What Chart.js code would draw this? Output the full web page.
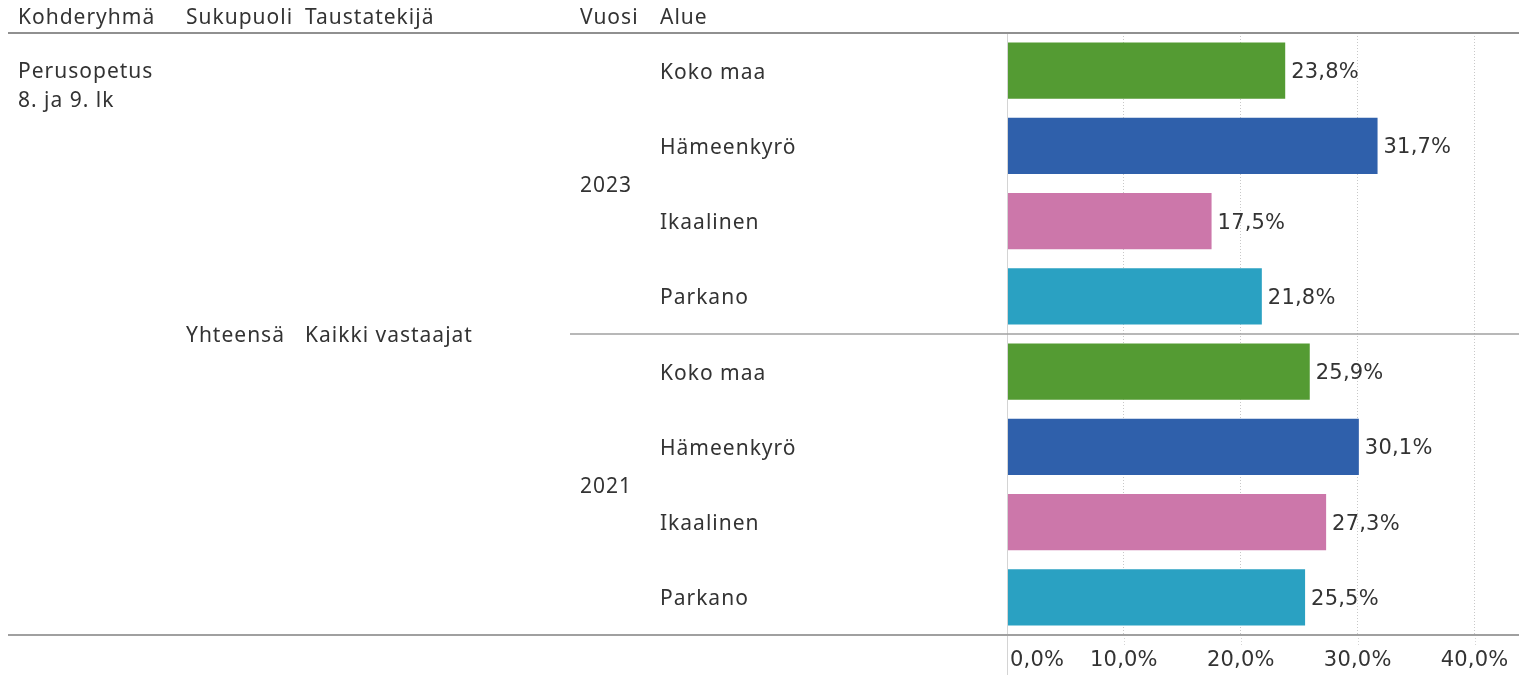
<!DOCTYPE html>
<html>
<head>
<meta charset="utf-8">
<script src="https://cdn.jsdelivr.net/npm/chart.js@4.4.0/dist/chart.umd.min.js"></script>
<style>
  html, body { margin: 0; padding: 0; background: #fff; }
  #wrap { width: 1519px; height: 675px; position: relative; }
</style>
</head>
<body>
<div id="wrap"><canvas id="chart" width="1519" height="675"></canvas></div>
<script>
var years = ['2023', '2021'];
var regions = ['Koko maa', 'Hämeenkyrö', 'Ikaalinen', 'Parkano'];
var values2023 = [23.8, 31.7, 17.5, 21.8];
var values2021 = [25.9, 30.1, 27.3, 25.5];
var regionColors = ['#549b33', '#2f60ab', '#cc77aa', '#2aa1c2'];
var tickValues = [0, 10, 20, 30, 40];
var headers = ['Kohderyhmä', 'Sukupuoli', 'Taustatekijä', 'Vuosi', 'Alue'];
var groupLabel = ['Perusopetus', '8. ja 9. lk'];
var genderLabel = 'Yhteensä';
var backgroundLabel = 'Kaikki vastaajat';

var labelFont = '21px "Noto Sans"';
var numberFont = '21px "DejaVu Sans"';
var textColor = '#333';

// one row per year + region
var rowLabels = [];
var rowValues = [];
var rowColors = [];
var allValues = [values2023, values2021];
for (var y = 0; y < years.length; y++) {
  for (var r = 0; r < regions.length; r++) {
    rowLabels.push([years[y], regions[r]]);
    rowValues.push(allValues[y][r]);
    rowColors.push(regionColors[r]);
  }
}

function pct(v) {
  return v.toFixed(1).replace('.', ',') + '%';
}

function hLine(ctx, x1, x2, y, color, w) {
  ctx.save();
  ctx.strokeStyle = color;
  ctx.lineWidth = w;
  ctx.beginPath();
  ctx.moveTo(x1, y);
  ctx.lineTo(x2, y);
  ctx.stroke();
  ctx.restore();
}

var tablePlugin = {
  id: 'tablePlugin',
  afterDraw: function (chart) {
    var ctx = chart.ctx;
    var xs = chart.scales.x;
    var ys = chart.scales.y;
    var area = chart.chartArea;
    var x0 = xs.getPixelForValue(0);

    // zero axis
    ctx.save();
    ctx.strokeStyle = '#d4d4d4';
    ctx.lineWidth = 1;
    ctx.beginPath();
    ctx.moveTo(x0 + 0.5, area.top);
    ctx.lineTo(x0 + 0.5, 675);
    ctx.stroke();
    // tick extensions below the axis
    ctx.setLineDash([1, 2]);
    for (var t = 1; t < tickValues.length; t++) {
      var tx = Math.round(xs.getPixelForValue(tickValues[t])) + 0.5;
      ctx.beginPath();
      ctx.moveTo(tx, area.bottom);
      ctx.lineTo(tx, area.bottom + 10);
      ctx.stroke();
    }
    ctx.restore();

    // horizontal rules
    var sep = (ys.getPixelForValue(3) + ys.getPixelForValue(4)) / 2;
    hLine(ctx, 8, 1519, area.top, '#909090', 2);
    hLine(ctx, 570, 1519, sep, '#a0a0a0', 1.5);
    hLine(ctx, 8, 1519, area.bottom, '#a0a0a0', 2);

    ctx.save();
    ctx.fillStyle = textColor;
    ctx.textBaseline = 'middle';

    // tick labels
    ctx.font = numberFont;
    ctx.letterSpacing = '0.2px';
    for (var k = 0; k < tickValues.length; k++) {
      var px = xs.getPixelForValue(tickValues[k]);
      if (k === 0) {
        ctx.textAlign = 'left';
        ctx.fillText(pct(tickValues[k]), px + 3, 661);
      } else {
        ctx.textAlign = 'center';
        ctx.fillText(pct(tickValues[k]), px, 661);
      }
    }

    // value labels
    var meta = chart.getDatasetMeta(0);
    ctx.textAlign = 'left';
    for (var i = 0; i < meta.data.length; i++) {
      ctx.fillText(pct(rowValues[i]), meta.data[i].x + 6, meta.data[i].y + 2);
    }

    // header row
    ctx.font = labelFont;
    ctx.letterSpacing = '1px';
    var headX = [18, 186, 305, 580, 660];
    for (var h = 0; h < headers.length; h++) {
      ctx.fillText(headers[h], headX[h], 18);
    }

    // table body
    ctx.fillText(groupLabel[0], 18, 72);
    ctx.fillText(groupLabel[1], 18, 101);
    var mid = (area.top + area.bottom) / 2;
    ctx.fillText(genderLabel, 186, mid + 2);
    ctx.fillText(backgroundLabel, 305, mid + 2);

    for (var yi = 0; yi < years.length; yi++) {
      var first = ys.getPixelForValue(yi * regions.length);
      var last = ys.getPixelForValue(yi * regions.length + regions.length - 1);
      ctx.fillText(years[yi], 580, (first + last) / 2 + 3);
    }
    for (var j = 0; j < rowLabels.length; j++) {
      ctx.fillText(rowLabels[j][1], 660, ys.getPixelForValue(j) + 2);
    }
    ctx.restore();
  }
};

new Chart(document.getElementById('chart'), {
  type: 'bar',
  data: {
    labels: rowLabels,
    datasets: [{
      data: rowValues,
      backgroundColor: rowColors,
      borderWidth: 0,
      categoryPercentage: 1,
      barPercentage: 0.745
    }]
  },
  options: {
    indexAxis: 'y',
    responsive: false,
    animation: false,
    devicePixelRatio: 1,
    layout: { padding: { left: 1007, top: 33, right: 0, bottom: 40 } },
    plugins: {
      legend: { display: false },
      tooltip: { enabled: false }
    },
    scales: {
      x: {
        min: 0,
        max: 43.8,
        afterBuildTicks: function (scale) {
          scale.ticks = tickValues.map(function (v) { return { value: v }; });
        },
        ticks: { display: false },
        grid: { color: '#c8c8c8', drawTicks: false, lineWidth: 1 },
        border: { display: false, dash: [1, 2] }
      },
      y: { display: false }
    }
  },
  plugins: [tablePlugin]
});
</script>
</body>
</html>
